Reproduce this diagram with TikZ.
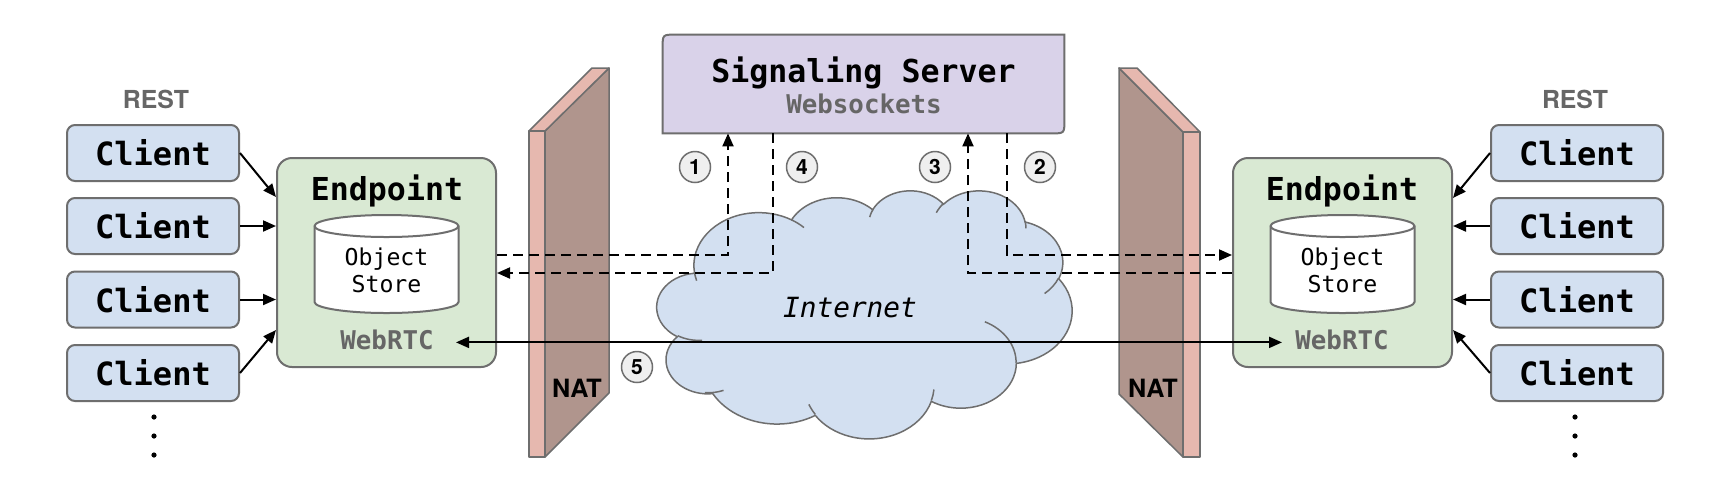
\documentclass[tikz,border=0pt]{standalone}
\usepackage{fontspec}
\usetikzlibrary{arrows.meta,calc}
\newfontfamily\monof{DejaVu Sans Mono}
\newfontfamily\sansf{TeX Gyre Heros}
\definecolor{clientfill}{HTML}{D3E0F1}
\definecolor{epfill}{HTML}{D9E9D3}
\definecolor{ssfill}{HTML}{D9D2E9}
\definecolor{natlight}{HTML}{E6B8AF}
\definecolor{natdark}{HTML}{B0958D}
\definecolor{edge}{HTML}{6E6E6E}
\definecolor{txtgray}{HTML}{666666}
\definecolor{numfill}{HTML}{EFEFEF}
\newcommand\carc[4]{arc[start angle={cps(#1,#2,#3)}, delta angle={cpd(#1,#2,#3,#4)}, x radius=#1, y radius=#2]}
\begin{document}
\begin{tikzpicture}[x=0.5pt,y=-0.5pt,
  declare function={cps(\pa,\pb,\pc)=atan2((\pa)*sin(\pc),(\pb)*cos(\pc));
                    cpd(\pa,\pb,\pc,\pd)=mod(cps(\pa,\pb,\pc+\pd)-cps(\pa,\pb,\pc)+720,360);},
  client/.style={draw=edge, line width=1pt, fill=clientfill, rounded corners=4pt,
    minimum width=86pt, minimum height=28pt, inner sep=0pt,
    font=\monof\bfseries\fontsize{16pt}{18pt}\selectfont},
  endpoint/.style={draw=edge, line width=1pt, fill=epfill, rounded corners=7.5pt,
    minimum width=109.5pt, minimum height=104.5pt, inner sep=0pt},
  num/.style={circle, draw=edge, line width=0.75pt, fill=numfill, minimum size=15.5pt,
    inner sep=0pt, font=\sansf\bfseries\fontsize{10.5pt}{12pt}\selectfont},
  conn/.style={line width=1pt, -{Triangle[length=6.5pt,width=5.5pt]}},
  sig/.style={conn, dash pattern=on 5pt off 3pt},
  lbl/.style={anchor=base, inner sep=0pt},
  bigmono/.style={lbl, font=\monof\bfseries\fontsize{15.8pt}{18pt}\selectfont},
  graymono/.style={lbl, text=txtgray, font=\monof\bfseries\fontsize{12.9pt}{15pt}\selectfont},
  smallmono/.style={lbl, font=\monof\fontsize{11.6pt}{13pt}\selectfont},
  graysans/.style={lbl, text=txtgray, font=\sansf\bfseries\fontsize{12.4pt}{15pt}\selectfont},
  natlbl/.style={lbl, font=\sansf\bfseries\fontsize{12.6pt}{15pt}\selectfont},
  natface/.style={draw=edge, line width=0.75pt, line join=round},
  cyl/.style={draw=edge, line width=1pt, fill=white}
]
\fill[white] (0,0) rectangle (1718,500);
\useasboundingbox (0,0) rectangle (1718,500);

% NAT walls
\path[natface, fill=natdark]  (545,131) -- (609,68) -- (609,393) -- (545,457) -- cycle;
\path[natface, fill=natlight] (529,131) -- (592,68) -- (609,68) -- (545,131) -- cycle;
\path[natface, fill=natlight] (529,131) -- (545,131) -- (545,457) -- (529,457) -- cycle;
\path[natface, fill=natdark]  (1119,68) -- (1183,132) -- (1183,457) -- (1119,394) -- cycle;
\path[natface, fill=natlight] (1119,68) -- (1137,68) -- (1200,132) -- (1183,132) -- cycle;
\path[natface, fill=natlight] (1183,132) -- (1200,132) -- (1200,457) -- (1183,457) -- cycle;
\node[natlbl] (natL) at (577,397) {NAT};
\node[natlbl] (natR) at (1153,397) {NAT};

% Internet cloud
\begin{scope}[shift={(657,190)}, x=0.48032pt, y=-0.28704pt]
\draw[draw=edge, line width=0.75pt, fill=clientfill] (39,143.7)
  \carc{67.53}{91.90}{-190.487}{123.781}
  \carc{53.33}{72.67}{-144.102}{89.945}
  \carc{43.65}{59.45}{-145.808}{99.723}
  \carc{48.57}{65.95}{-130.986}{117.242}
  \carc{53.33}{72.73}{-78.709}{109.027}
  \carc{67.75}{92.20}{-46.267}{130.269}
  \carc{57.85}{78.67}{0.625}{114.033}
  \carc{67.52}{92.15}{22.452}{115.173}
  \carc{77.20}{105.43}{66.243}{75.711}
  \carc{43.60}{59.18}{-274.942}{146.736}
  \carc{43.45}{59.45}{-246.829}{152.519} -- cycle;
\draw[draw=edge, line width=0.75pt]
  (46.93,261.77) \carc{43.45}{59.45}{86.742}{26.430}
  (69.28,348.99) \carc{43.60}{59.18}{73.601}{19.615}
  (164.78,390.90) \carc{67.52}{92.15}{137.624}{14.081}
  (288.27,347.51) \carc{67.52}{92.15}{6.453}{15.998}
  (341.29,229.54) \carc{57.85}{78.67}{-70.292}{70.917}
  (417.98,153.54) \carc{53.33}{72.73}{30.318}{27.752}
  (383.24,54.26) \carc{48.57}{65.95}{-13.744}{14.855}
  (290.78,39.52) \carc{48.57}{65.95}{-149.181}{18.193}
  (221.41,47.20) \carc{43.65}{59.45}{-163.494}{17.698}
  (140.00,51.92) \carc{67.53}{91.90}{-66.707}{12.319}
  (41.27,157.89) \carc{67.53}{91.90}{157.654}{11.858};
\end{scope}
\node[lbl, font=\monof\itshape\fontsize{13.9pt}{16pt}\selectfont] (inet) at (850,317) {Internet};

% Signaling server
\node[minimum width=200.5pt, minimum height=49pt, inner sep=0pt] (ss) at (863.5,84) {};
\path[draw=edge, line width=1pt, fill=ssfill]
  (ss.south west) -- ([yshift=-6.5pt]ss.north west) .. controls (ss.north west) .. ([xshift=6.5pt]ss.north west)
  -- (ss.north east) -- ([yshift=6.5pt]ss.south east) .. controls (ss.south east) .. ([xshift=-6.5pt]ss.south east) -- cycle;
\node[bigmono] (sst) at (863.5,82) {Signaling Server};
\node[graymono] (ws) at (864,113) {Websockets};

% Clients
\foreach \i/\yy in {1/153,2/226,3/299.5,4/373}{
  \node[client] (cl\i) at (153,\yy) {Client};
  \node[client] (cr\i) at (1577,\yy) {Client};
}
\node[graysans] (restL) at (156,108) {REST};
\node[graysans] (restR) at (1575,108) {REST};
\foreach \yy in {417,436,455}{
  \fill (154,\yy) circle[radius=2.6];
  \fill (1575,\yy) circle[radius=2.6];
}

% Endpoints
\node[endpoint] (epL) at (386.5,262.5) {};
\node[endpoint] (epR) at (1342.5,262.5) {};
\node[bigmono] (epLt) at (387,200) {Endpoint};
\node[bigmono] (epRt) at (1342,200) {Endpoint};
\foreach \cx in {386.5,1342.5}{
  \path[cyl] (\cx-72,226) -- (\cx-72,302) arc[start angle=180, end angle=0, x radius=72, y radius=11]
    -- (\cx+72,226) arc[start angle=0, end angle=-180, x radius=72, y radius=11] -- cycle;
  \draw[draw=edge, line width=1pt] (\cx-72,226) arc[start angle=180, end angle=0, x radius=72, y radius=11];
}
\node[smallmono] (objL) at (386.5,265) {Object};
\node[smallmono] (stoL) at (386.5,292) {Store};
\node[smallmono] (objR) at (1342.5,265) {Object};
\node[smallmono] (stoR) at (1342.5,292) {Store};
\node[graymono] (wrL) at (387,349) {WebRTC};
\node[graymono] (wrR) at (1342,349) {WebRTC};

% client connectors
\draw[conn] (cl1.east) -- ([yshift=32.75pt]epL.west);
\draw[conn] (cl2.east) -- (cl2.east -| epL.west);
\draw[conn] (cl3.east) -- (cl3.east -| epL.west);
\draw[conn] (cl4.east) -- ([yshift=-33.75pt]epL.west);
\draw[conn] (cr1.west) -- ([yshift=32.25pt]epR.east);
\draw[conn] (cr2.west) -- (cr2.west -| epR.east);
\draw[conn] (cr3.west) -- (cr3.west -| epR.east);
\draw[conn] (cr4.west) -- ([yshift=-33.75pt]epR.east);

% signaling
\draw[sig] ([yshift=3.75pt]epL.east) -| ([xshift=-67.75pt]ss.south);
\draw[sig] ([xshift=71.75pt]ss.south) |- ([yshift=3.75pt]epR.west);
\draw[sig] ([yshift=-5.25pt]epR.west) -| ([xshift=52.25pt]ss.south);
\draw[sig] ([xshift=-45.25pt]ss.south) |- ([yshift=-5.25pt]epL.east);

% WebRTC link
\draw[line width=1pt, {Triangle[length=6.5pt,width=5.5pt]}-{Triangle[length=6.5pt,width=5.5pt]}]
  ([xshift=11pt,yshift=-1.5pt]wrL.east) -- ([xshift=-6.5pt,yshift=-1.5pt]wrR.west);

% step numbers
\node[num] (n1) at (695,167) {1};
\node[num] (n4) at (802,167) {4};
\node[num] (n3) at (935,167) {3};
\node[num] (n2) at (1040,167) {2};
\node[num] (n5) at (637,367) {5};
\end{tikzpicture}
\end{document}
